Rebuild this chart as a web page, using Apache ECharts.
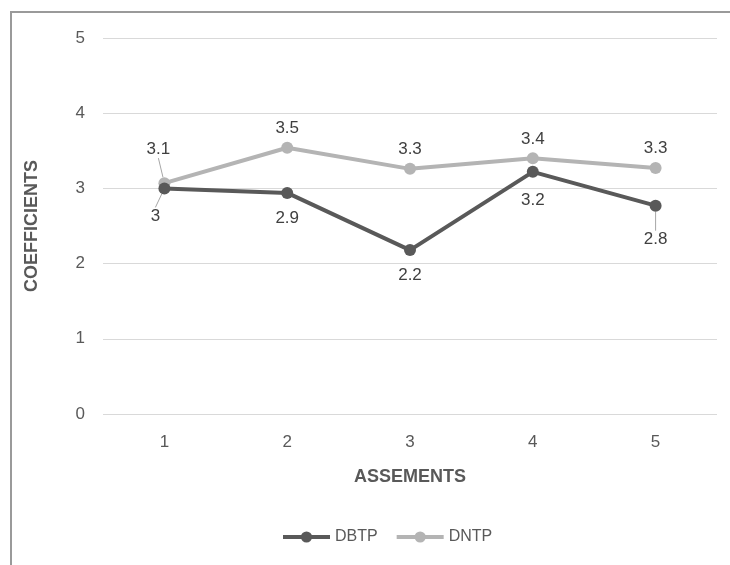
<!DOCTYPE html>
<html>
<head>
<meta charset="utf-8">
<script src="https://cdn.jsdelivr.net/npm/echarts@6/dist/echarts.min.js"></script>
<style>
  html, body { margin: 0; padding: 0; background: #fff; }
  #chart { width: 730px; height: 565px; }
</style>
</head>
<body>
<div id="chart"></div>
<script>
// 横轴类别
const assessments = ['1', '2', '3', '4', '5']
// 数据
const dbtp = [3.0, 2.94, 2.18, 3.22, 2.77]
const dntp = [3.07, 3.54, 3.26, 3.4, 3.27]
const yTicks = { min: 0, max: 5, interval: 1 }
// 需要引导线的标签
const dbtpLeader = [0, 4]
const dntpLeader = [0]

const font = '"Liberation Sans Narrow", "Liberation Sans", sans-serif'
const fmt = p => String(Number(p.value.toFixed(1)))
const withLeader = (arr, idx) =>
  arr.map((v, i) => (idx.includes(i) ? { value: v, labelLine: { show: true } } : v))

const chart = echarts.init(document.getElementById('chart'))

// 个别标签挪位
const dbtpLayout = params => {
  if (params.dataIndex === 0) return { dx: -9, dy: 2 }
  if (params.dataIndex === 4) return { dy: 8 }
  if (params.dataIndex === 3) return { dy: 3 }
  return {}
}
const dntpLayout = params => {
  if (params.dataIndex === 0) return { dx: -6, dy: -14 }
  return {}
}

const options = {
  animation: false,
  textStyle: { fontFamily: font },
  graphic: [
    {
      type: 'rect',
      shape: { x: 11, y: 12, width: 900, height: 700 },
      style: { fill: null, stroke: '#9a9a9a', lineWidth: 2 }
    }
  ],
  color: ['#595959', '#b4b4b4'],
  legend: {
    left: 276,
    top: 524,
    itemWidth: 47,
    itemHeight: 14,
    itemGap: 17,
    lineStyle: { width: 4 },
    textStyle: { color: '#595959', fontSize: 16, fontFamily: font },
    data: ['DBTP', 'DNTP']
  },
  grid: {
    left: 103,
    right: 13,
    top: 38,
    bottom: 151,
    containLabel: false
  },
  xAxis: {
    type: 'category',
    boundaryGap: true,
    data: assessments,
    name: 'ASSEMENTS',
    nameLocation: 'middle',
    nameGap: 54,
    nameTextStyle: { color: '#595959', fontSize: 18, fontWeight: 'bold', fontFamily: font },
    axisLine: { show: false },
    axisTick: { show: false },
    axisLabel: { color: '#595959', fontSize: 17, margin: 20 }
  },
  yAxis: {
    type: 'value',
    min: yTicks.min,
    max: yTicks.max,
    interval: yTicks.interval,
    name: 'COEFFICIENTS',
    nameLocation: 'middle',
    nameGap: 62,
    nameTextStyle: { color: '#595959', fontSize: 18, fontWeight: 'bold', fontFamily: font },
    axisLine: { show: false },
    axisTick: { show: false },
    axisLabel: { color: '#595959', fontSize: 17, margin: 18 },
    splitLine: { lineStyle: { color: '#d9d9d9', width: 1 } }
  },
  series: [
    {
      name: 'DBTP',
      type: 'line',
      data: withLeader(dbtp, dbtpLeader),
      symbol: 'circle',
      symbolSize: 12,
      lineStyle: { width: 4 },
      z: 3,
      label: {
        show: true,
        position: 'bottom',
        distance: 11,
        color: '#404040',
        fontSize: 17,
        formatter: fmt
      },
      labelLine: { show: false, lineStyle: { color: '#a6a6a6', width: 1 } },
      labelLayout: dbtpLayout
    },
    {
      name: 'DNTP',
      type: 'line',
      data: withLeader(dntp, dntpLeader),
      symbol: 'circle',
      symbolSize: 12,
      lineStyle: { width: 4 },
      z: 2,
      label: {
        show: true,
        position: 'top',
        distance: 5,
        color: '#404040',
        fontSize: 17,
        formatter: fmt
      },
      labelLine: { show: false, lineStyle: { color: '#a6a6a6', width: 1 } },
      labelLayout: dntpLayout
    }
  ]
}
chart.setOption(options)
</script>
</body>
</html>
